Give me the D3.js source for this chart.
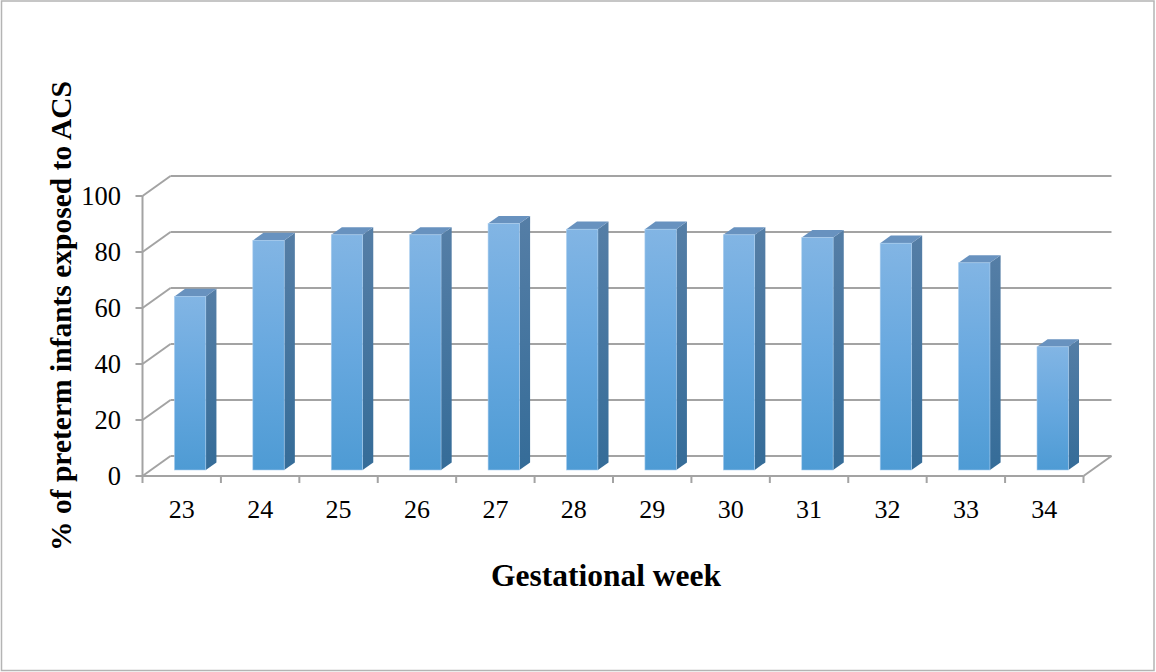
<!DOCTYPE html>
<html>
<head>
<meta charset="utf-8">
<script src="https://cdn.jsdelivr.net/npm/d3@7"></script>
<style>
  html, body { margin: 0; padding: 0; background: #fff; }
  svg { display: block; }
  text { font-family: "Liberation Serif", "Times New Roman", serif; fill: #000; }
</style>
</head>
<body>
<svg id="chart" width="1156" height="672"></svg>
<script>
// Gestational week categories and % exposed to antenatal corticosteroids
const weeks = ["23", "24", "25", "26", "27", "28", "29", "30", "31", "32", "33", "34"];
const percentExposed = [62, 82, 84, 84, 88, 86, 86, 84, 83, 81, 74, 44];
const yTicks = [0, 20, 40, 60, 80, 100];
const xTitle = "Gestational week";
const yTitle = "% of preterm infants exposed to ACS";

const svg = d3.select("#chart");
const W = 1156, H = 672;

// outer frame
svg.append("rect")
  .attr("x", 1.5).attr("y", 1).attr("width", W - 3.5).attr("height", H - 2.5)
  .attr("fill", "#fff").attr("stroke", "#b4b4b4").attr("stroke-width", 1.5);

// 3-D plot box: front plane and depth offset
const front = { left: 142.5, right: 1083.5, bottom: 476, top: 196 };
const depth = { dx: 28, dy: -20 };

const x = d3.scaleBand().domain(weeks).range([front.left, front.right]).paddingInner(0).paddingOuter(0);
const y = d3.scaleLinear().domain([0, 100]).range([front.bottom, front.top]);

// bar placement along depth (fraction of box depth) and width fraction of band
const barDepth0 = 0.3, barDepth1 = 0.68;
const barWidthFrac = 0.40;

const gridColor = "#a3a3a3";
const grid = svg.append("g").attr("stroke", gridColor).attr("stroke-width", 2).attr("fill", "none");

// back-wall gridlines and side-wall diagonals
yTicks.forEach(t => {
  const yf = y(t);
  grid.append("line")
    .attr("x1", front.left + depth.dx).attr("y1", yf + depth.dy)
    .attr("x2", front.right + depth.dx).attr("y2", yf + depth.dy);
  grid.append("line")
    .attr("x1", front.left).attr("y1", yf)
    .attr("x2", front.left + depth.dx).attr("y2", yf + depth.dy);
  // tick mark on vertical axis
  grid.append("line")
    .attr("x1", front.left - 7).attr("y1", yf)
    .attr("x2", front.left).attr("y2", yf);
});

// vertical axis line
grid.append("line")
  .attr("x1", front.left).attr("y1", y(0))
  .attr("x2", front.left).attr("y2", y(100));

// floor edges
grid.append("line")
  .attr("x1", front.left).attr("y1", y(0))
  .attr("x2", front.right).attr("y2", y(0));
grid.append("line")
  .attr("x1", front.right).attr("y1", y(0))
  .attr("x2", front.right + depth.dx).attr("y2", y(0) + depth.dy);

// category tick marks below floor front edge
const bounds = weeks.map(w => x(w)).concat([front.right]);
bounds.forEach(bx => {
  grid.append("line")
    .attr("x1", bx).attr("y1", y(0))
    .attr("x2", bx).attr("y2", y(0) + 7);
});

// gradients for bar faces
const defs = svg.append("defs");
const gFront = defs.append("linearGradient").attr("id", "gFront")
  .attr("x1", 0).attr("y1", 0).attr("x2", 0).attr("y2", 1);
gFront.append("stop").attr("offset", "0%").attr("stop-color", "#82b5e4");
gFront.append("stop").attr("offset", "50%").attr("stop-color", "#67a8df");
gFront.append("stop").attr("offset", "100%").attr("stop-color", "#4e9bd4");
const gSide = defs.append("linearGradient").attr("id", "gSide")
  .attr("x1", 0).attr("y1", 0).attr("x2", 0).attr("y2", 1);
gSide.append("stop").attr("offset", "0%").attr("stop-color", "#557ea6");
gSide.append("stop").attr("offset", "100%").attr("stop-color", "#356c98");

// bars
const bars = svg.append("g");
weeks.forEach((w, i) => {
  const v = percentExposed[i];
  const bw = x.bandwidth() * barWidthFrac;
  const cx = x(w) + x.bandwidth() / 2;
  const ox0 = depth.dx * barDepth0, oy0 = depth.dy * barDepth0;
  const ox1 = depth.dx * barDepth1, oy1 = depth.dy * barDepth1;
  const xl = cx - bw / 2 + ox0, xr = cx + bw / 2 + ox0;
  const yb = y(0) + oy0, yt = y(v) + oy0;
  const ddx = ox1 - ox0, ddy = oy1 - oy0;

  // side face
  bars.append("path")
    .attr("d", `M${xr},${yb} L${xr + ddx},${yb + ddy} L${xr + ddx},${yt + ddy} L${xr},${yt} Z`)
    .attr("fill", "url(#gSide)");
  // top face
  bars.append("path")
    .attr("d", `M${xl},${yt} L${xl + ddx},${yt + ddy} L${xr + ddx},${yt + ddy} L${xr},${yt} Z`)
    .attr("fill", "#6892bf");
  // front face
  bars.append("rect")
    .attr("x", xl).attr("y", yt).attr("width", bw).attr("height", yb - yt)
    .attr("fill", "url(#gFront)")
    .attr("stroke", "#a9cdee").attr("stroke-width", 0.6);
});

// y tick labels
svg.append("g").selectAll("text").data(yTicks).join("text")
  .attr("x", 121).attr("y", d => y(d))
  .attr("dy", "0.34em")
  .attr("text-anchor", "end")
  .attr("font-size", 26.5)
  .text(d => d);

// x tick labels
svg.append("g").selectAll("text").data(weeks).join("text")
  .attr("x", d => x(d) + x.bandwidth() / 2)
  .attr("y", 518)
  .attr("text-anchor", "middle")
  .attr("font-size", 26)
  .text(d => d);

// axis titles
svg.append("text")
  .attr("x", 606).attr("y", 586)
  .attr("text-anchor", "middle")
  .attr("font-size", 31.5).attr("font-weight", "bold")
  .text(xTitle);

svg.append("text")
  .attr("transform", "translate(71,316) rotate(-90)")
  .attr("text-anchor", "middle")
  .attr("font-size", 29.5).attr("font-weight", "bold")
  .text(yTitle);
</script>
</body>
</html>
